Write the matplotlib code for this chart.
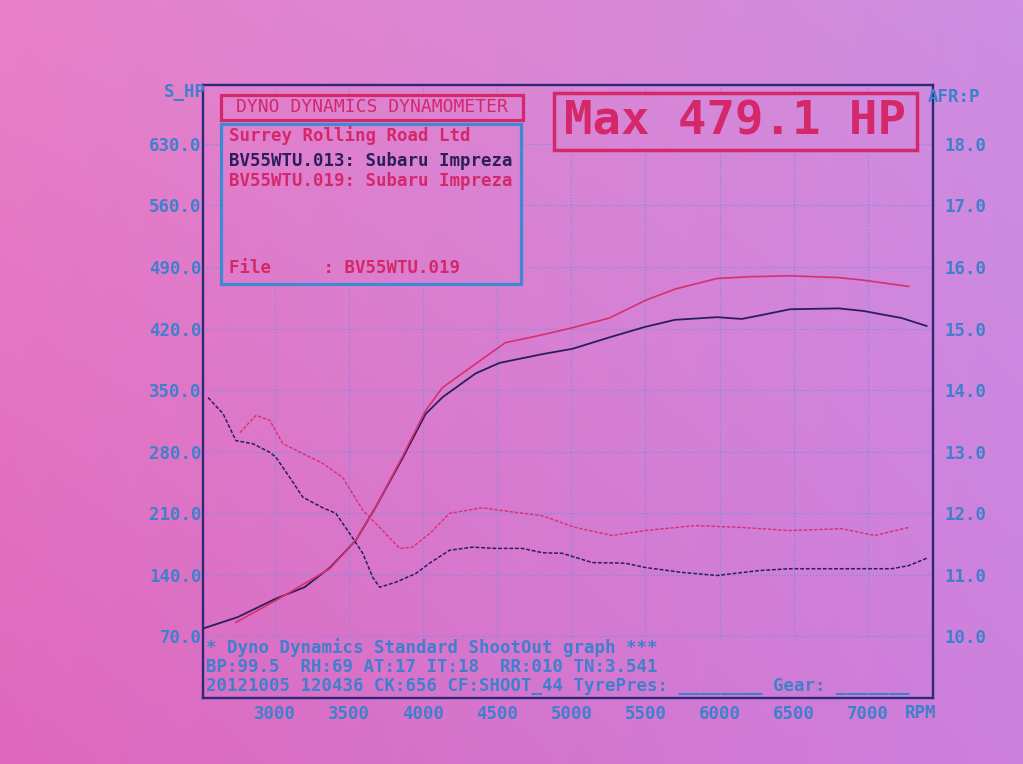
import matplotlib
matplotlib.use("Agg")
import numpy as np
import matplotlib.pyplot as plt
from matplotlib.patches import Rectangle

# ---------------- data ----------------
rpm_p013 = [2515, 2750, 3007, 3200, 3370, 3545, 3680, 3862, 4017, 4131, 4354, 4515,
            4805, 5007, 5256, 5498, 5700, 5983, 6150, 6300, 6475, 6805, 6973, 7229, 7397]
hp_013 = [79, 92, 113, 126, 148, 179, 217, 273, 323, 342, 369, 381,
          391, 397, 410, 422, 430, 433, 431, 436, 442, 443, 440, 432, 423]

rpm_p019 = [2737, 3007, 3370, 3545, 3680, 3862, 4017, 4131, 4354, 4555, 4805, 5007,
            5256, 5498, 5700, 5983, 6200, 6475, 6805, 6973, 7276]
hp_019 = [86, 111, 147, 179, 217, 275, 327, 353, 380, 404, 413, 421,
          432, 452, 465, 477, 479, 480, 478, 475, 468]

rpm_a013 = [2549, 2650, 2737, 2852, 2966, 3007, 3101, 3189, 3323, 3411, 3505, 3593,
            3660, 3707, 3815, 3949, 4044, 4178, 4333, 4488, 4670, 4805, 4939, 5141,
            5364, 5498, 5747, 5983, 6266, 6475, 6825, 7162, 7276, 7397]
afr_013 = [13.88, 13.62, 13.18, 13.13, 12.99, 12.91, 12.58, 12.26, 12.09, 12.00, 11.67, 11.35,
           10.96, 10.80, 10.88, 11.02, 11.19, 11.40, 11.45, 11.43, 11.43, 11.36, 11.35, 11.20,
           11.19, 11.12, 11.04, 10.99, 11.07, 11.10, 11.10, 11.10, 11.15, 11.27]

rpm_a019 = [2764, 2872, 2966, 3054, 3189, 3323, 3458, 3593, 3707, 3842, 3929, 4044,
            4178, 4401, 4515, 4805, 5027, 5276, 5498, 5835, 6151, 6475, 6825, 7047, 7276]
afr_019 = [13.31, 13.59, 13.51, 13.13, 12.97, 12.81, 12.58, 12.05, 11.77, 11.43, 11.45, 11.67,
           12.00, 12.09, 12.05, 11.96, 11.77, 11.64, 11.72, 11.80, 11.77, 11.72, 11.75, 11.64, 11.77]

x_ticks = [3000, 3500, 4000, 4500, 5000, 5500, 6000, 6500, 7000]
hp_ticks = [70, 140, 210, 280, 350, 420, 490, 560, 630]
afr_ticks = [10, 11, 12, 13, 14, 15, 16, 17, 18]

# ---------------- style ----------------
BG = "#d98ad4"
BLUE = "#3f80cc"
GRID = "#7590e0"
NAVY = "#2c2a78"
CRIMSON = "#d4286a"
DARKLINE = "#2a1f5c"
REDLINE = "#d8306e"
MONO = "DejaVu Sans Mono"
WT = "bold"

W, H = 1023, 764
fig = plt.figure(figsize=(W / 100, H / 100), dpi=100, facecolor=BG)

# paper-colour gradient (photo lighting)
tl = np.array([232, 128, 200]) / 255
tr = np.array([206, 142, 226]) / 255
bl = np.array([222, 104, 188]) / 255
br = np.array([204, 128, 222]) / 255
u = np.linspace(0, 1, 64)[None, :, None]
v = np.linspace(0, 1, 48)[:, None, None]
grad = (1 - v) * ((1 - u) * tl + u * tr) + v * ((1 - u) * bl + u * br)

bg_ax = fig.add_axes([0, 0, 1, 1], zorder=-5)
bg_ax.imshow(grad, extent=(0, 1, 0, 1), aspect="auto", interpolation="bilinear", origin="upper")
bg_ax.set_xlim(0, 1)
bg_ax.set_ylim(0, 1)
bg_ax.axis("off")

def fx(x):
    return x / W

def fy(y):
    return 1 - y / H

L, R, T, B = 203, 933, 85, 698
ax = fig.add_axes([fx(L), fy(B), (R - L) / W, (B - T) / H], zorder=1)
ax.patch.set_alpha(0)
ax.set_xlim(2515, 7440)
ax.set_ylim(0, 697)

# grid
ax.hlines(hp_ticks, 2515, 7440, colors=GRID, linestyles=(0, (1, 1.5)), linewidth=0.9, zorder=1)
ax.vlines(x_ticks, 70, 697, colors=GRID, linestyles=(0, (1, 1.5)), linewidth=0.9, zorder=1)

# power curves
ax.plot(rpm_p013, hp_013, color=DARKLINE, lw=1.3, zorder=3)
ax.plot(rpm_p019, hp_019, color=REDLINE, lw=1.2, zorder=3)

ax.set_xticks(x_ticks)
ax.set_xticklabels([str(v) for v in x_ticks])
ax.set_yticks(hp_ticks)
ax.set_yticklabels([f"{v:.1f}" for v in hp_ticks])
ax.tick_params(axis="both", length=0, colors=BLUE, labelsize=12.5)
ax.tick_params(axis="y", pad=1)
ax.tick_params(axis="x", pad=5)
for lab in ax.get_xticklabels() + ax.get_yticklabels():
    lab.set_fontfamily(MONO)
    lab.set_fontweight(WT)
for s in ax.spines.values():
    s.set_color(NAVY)
    s.set_linewidth(1.7)

# AFR axis
ax2 = ax.twinx()
ax2.patch.set_alpha(0)
ax2.set_ylim(9.0, 9.0 + 697 / 70.0)
ax2.plot(rpm_a013, afr_013, color=DARKLINE, lw=1.1, linestyle=(0, (2.5, 1.2)), zorder=3)
ax2.plot(rpm_a019, afr_019, color=REDLINE, lw=1.0, linestyle=(0, (2.5, 1.2)), zorder=3)
ax2.set_yticks(afr_ticks)
ax2.set_yticklabels([f"{v:.1f}" for v in afr_ticks])
ax2.tick_params(axis="y", length=0, colors=BLUE, labelsize=12.5, pad=8)
for lab in ax2.get_yticklabels():
    lab.set_fontfamily(MONO)
    lab.set_fontweight(WT)
for s in ax2.spines.values():
    s.set_visible(False)

# axis captions
fig.text(fx(206), fy(92), "S_HP", color=BLUE, fontsize=12.5, family=MONO, weight=WT, ha="right", va="center")
fig.text(fx(928), fy(97), "AFR:P", color=BLUE, fontsize=12.5, family=MONO, weight=WT, ha="left", va="center")
fig.text(fx(905), fy(713), "RPM", color=BLUE, fontsize=12.5, family=MONO, weight=WT, ha="left", va="center")

# overlay axes with the same gradient, clipped to the header boxes (boxes hide the grid)
ov = fig.add_axes([0, 0, 1, 1], zorder=4)
ov.set_xlim(0, 1)
ov.set_ylim(0, 1)
ov.axis("off")

def box(x0, y0, x1, y1, color, lw):
    rect = Rectangle((fx(x0), fy(y1)), (x1 - x0) / W, (y1 - y0) / H,
                     transform=ov.transAxes, facecolor="none",
                     edgecolor=color, linewidth=lw, zorder=5)
    im = ov.imshow(grad, extent=(0, 1, 0, 1), aspect="auto", interpolation="bilinear",
                   origin="upper", zorder=4)
    clip = Rectangle((fx(x0), fy(y1)), (x1 - x0) / W, (y1 - y0) / H, transform=ov.transAxes)
    im.set_clip_path(clip)
    ov.add_patch(rect)

box(221, 95, 523, 120, CRIMSON, 2.3)
box(221, 124, 521, 284, "#3a8ad4", 2.3)
box(554, 93, 917, 150, CRIMSON, 2.5)
ov.set_xlim(0, 1)
ov.set_ylim(0, 1)

def t(x, y, s, color, size=12.5, ha="left", weight=WT):
    ov.text(fx(x), fy(y), s, color=color, fontsize=size, family=MONO, weight=weight,
            ha=ha, va="center", transform=ov.transAxes, zorder=6)

t(372, 107.5, "DYNO DYNAMICS DYNAMOMETER", CRIMSON, size=13, ha="center", weight="normal")
t(229, 136, "Surrey Rolling Road Ltd", CRIMSON)
t(229, 161, "BV55WTU.013: Subaru Impreza", DARKLINE)
t(229, 181, "BV55WTU.019: Subaru Impreza", CRIMSON)
t(229, 268, "File     : BV55WTU.019", CRIMSON)
t(735, 122, "Max 479.1 HP", CRIMSON, size=34, ha="center", weight="bold")

# footer text inside frame
footer = [
    "* Dyno Dynamics Standard ShootOut graph ***",
    "BP:99.5  RH:69 AT:17 IT:18  RR:010 TN:3.541",
    "20121005 120436 CK:656 CF:SHOOT_44 TyrePres: ________ Gear: _______",
]
for i, line in enumerate(footer):
    t(206, 648 + 19 * i, line, BLUE)

fig.savefig("out.png", dpi=100)
